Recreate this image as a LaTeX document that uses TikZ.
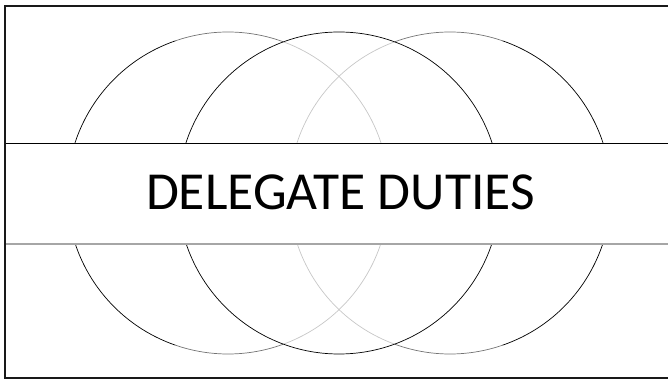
\documentclass[tikz,border=0pt]{standalone}
\usepackage{fontspec}
\newfontfamily\titlefont{Carlito}
\begin{document}
\begin{tikzpicture}[x=1pt,y=1pt,
  ring/.style={line width=0.7pt, draw=black},
  ringsoft/.style={line width=0.7pt, draw=black!22},
  ringmid/.style={line width=0.7pt, draw=black!55},
  frameline/.style={line width=2pt, draw=black!90},
]
\useasboundingbox (0,0) rectangle (668,380);
% centres
\coordinate (cl) at (228,187);
\coordinate (cm) at (339,187);
\coordinate (cr) at (450,187);
% left circle
\draw[ringsoft] (cl) ++(-70:161) arc[start angle=-70, end angle=70, radius=161];
\draw[ringmid] (cl) ++(70:161) arc[start angle=70, end angle=109, radius=161];
\draw[ring] (cl) ++(109:161) arc[start angle=109, end angle=251, radius=161];
\draw[ringmid] (cl) ++(251:161) arc[start angle=251, end angle=290, radius=161];
% right circle
\draw[ringsoft] (cr) ++(110:161) arc[start angle=110, end angle=250, radius=161];
\draw[ringmid] (cr) ++(71:161) arc[start angle=71, end angle=110, radius=161];
\draw[ringmid] (cr) ++(250:161) arc[start angle=250, end angle=289, radius=161];
\draw[ring] (cr) ++(-71:161) arc[start angle=-71, end angle=71, radius=161];
% middle circle
\draw[ring] (cm) circle[radius=161];
% band
\fill[white] (5,136) rectangle (668,236.7);
\coordinate (btl) at (5,236.7);
\coordinate (btr) at (668,236.7);
\coordinate (bbl) at (5,136);
\coordinate (bbr) at (668,136);
\draw[line width=0.9pt, black] (btl) -- (btr);
\draw[line width=1.3pt, gray!70] (bbl) -- (bbr);
\node[anchor=base, inner sep=0pt, font=\titlefont\fontsize{53.5}{64}\selectfont] (title) at (340.5,170.5) {DELEGATE DUTIES};
% frame
\coordinate (ftl) at (5,374);
\coordinate (ftr) at (670,374);
\coordinate (fbl) at (5,2);
\coordinate (fbr) at (670,2);
\draw[frameline] (ftr) -- (ftl) -- (fbl) -- (fbr);
\end{tikzpicture}
\end{document}
